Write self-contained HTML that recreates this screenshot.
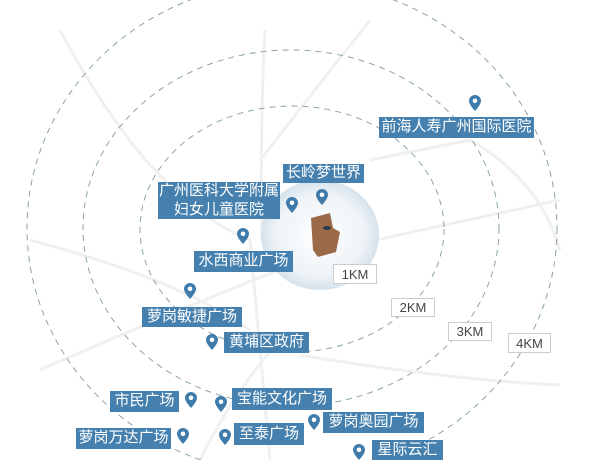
<!DOCTYPE html>
<html><head><meta charset="utf-8"><style>
body{margin:0;width:615px;height:460px;overflow:hidden;background:#fff;font-family:"Liberation Sans","Noto Sans CJK SC",sans-serif}
.b{position:absolute;background:#4580ae;color:#fff;font-size:15px;line-height:1.22;text-align:center;display:flex;align-items:center;justify-content:center;white-space:nowrap}
.k{position:absolute;background:#fff;border:1px solid #ccc;color:#444;font-size:13px;display:flex;align-items:center;justify-content:center;box-sizing:border-box}
</style></head><body>
<svg width="615" height="460" style="position:absolute;left:0;top:0">
<defs><radialGradient id="g" cx="50%" cy="50%" r="50%"><stop offset="0" stop-color="#fff"/><stop offset="0.75" stop-color="#eef3f7"/><stop offset="1" stop-color="#d5e2ec"/></radialGradient>
<symbol id="p" viewBox="0 0 12 16"><path d="M6 0C2.7 0 0 2.6 0 5.8 0 10 6 16 6 16s6-6 6-10.2C12 2.6 9.3 0 6 0z" fill="#3f7cab"/><circle cx="6" cy="5.8" r="2.3" fill="#fff"/></symbol></defs>
<g stroke="#f0f0f0" stroke-width="3" fill="none">
<path d="M60 30 Q150 200 250 240 L270 460"/>
<path d="M265 30 Q260 120 262 240"/>
<path d="M370 20 L260 160"/>
<path d="M40 370 Q200 300 330 250 L560 200"/>
<path d="M30 240 Q180 280 250 330"/>
<path d="M300 355 Q450 380 560 385"/>
<path d="M370 160 L470 140 Q540 180 560 250"/>
<path d="M200 460 Q240 380 290 330"/>
</g>
<g fill="none" stroke="#8aa3ad" stroke-width="1" stroke-dasharray="6 5">
<ellipse cx="292" cy="229" rx="152" ry="123"/>
<ellipse cx="291" cy="228" rx="208" ry="178"/>
<ellipse cx="292" cy="228" rx="265" ry="247"/>
</g>
<ellipse cx="320" cy="235" rx="59" ry="55" fill="url(#g)"/>
<polygon points="311,218 330,213 333,228 340,232 336,252 318,257 313,250" fill="#9b6b49"/>
<ellipse cx="327" cy="228" rx="4" ry="2" fill="#2a3a4a"/>
<use href="#p" x="469" y="95" width="12" height="16"/>
<use href="#p" x="316" y="189" width="12" height="16"/>
<use href="#p" x="286" y="197" width="12" height="16"/>
<use href="#p" x="237" y="228" width="12" height="16"/>
<use href="#p" x="184" y="283" width="12" height="16"/>
<use href="#p" x="206" y="334" width="12" height="16"/>
<use href="#p" x="185" y="392" width="12" height="16"/>
<use href="#p" x="215" y="396" width="12" height="16"/>
<use href="#p" x="308" y="414" width="12" height="16"/>
<use href="#p" x="177" y="428" width="12" height="16"/>
<use href="#p" x="219" y="429" width="12" height="16"/>
<use href="#p" x="353" y="444" width="12" height="16"/>
</svg>
<div class="b" style="left:379px;top:117px;width:155px;height:21px">前海人寿广州国际医院</div>
<div class="b" style="left:283px;top:164px;width:81px;height:19px">长岭梦世界</div>
<div class="b" style="left:158px;top:182px;width:122px;height:37px">广州医科大学附属<br>妇女儿童医院</div>
<div class="b" style="left:194px;top:251px;width:99px;height:21px">水西商业广场</div>
<div class="b" style="left:142px;top:307px;width:100px;height:20px">萝岗敏捷广场</div>
<div class="b" style="left:224px;top:332px;width:85px;height:21px">黄埔区政府</div>
<div class="b" style="left:110px;top:391px;width:69px;height:21px">市民广场</div>
<div class="b" style="left:232px;top:388px;width:100px;height:22px">宝能文化广场</div>
<div class="b" style="left:323px;top:412px;width:101px;height:21px">萝岗奥园广场</div>
<div class="b" style="left:76px;top:428px;width:95px;height:21px">萝岗万达广场</div>
<div class="b" style="left:234px;top:423px;width:70px;height:22px">至泰广场</div>
<div class="b" style="left:372px;top:440px;width:71px;height:20px">星际云汇</div>
<div class="k" style="left:333px;top:264px;width:44px;height:20px">1KM</div>
<div class="k" style="left:391px;top:298px;width:44px;height:19px">2KM</div>
<div class="k" style="left:448px;top:322px;width:44px;height:19px">3KM</div>
<div class="k" style="left:508px;top:333px;width:43px;height:20px">4KM</div>
</body></html>
